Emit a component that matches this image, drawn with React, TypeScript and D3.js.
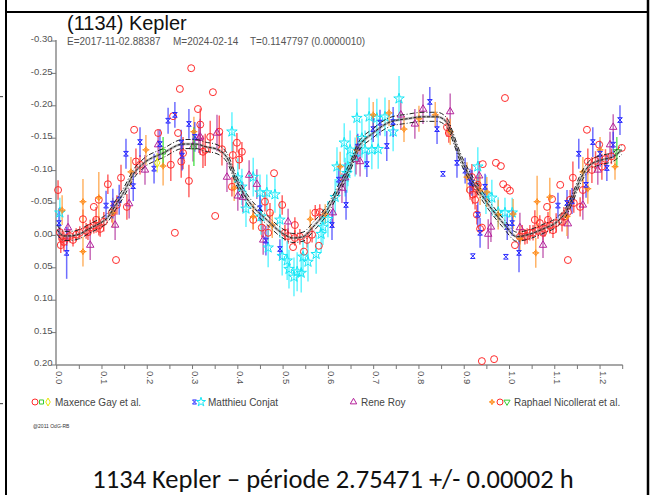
import React from "react";
import * as d3 from "d3";

// [phase, reduced magnitude, error]
type Obs = [number, number, number];

// Fourier fit of the composite lightcurve
const fitPhase = [0.001,0.016,0.029,0.051,0.071,0.096,0.109,0.133,0.146,0.171,0.193,0.235,0.279,0.308,0.328,0.354,0.376,0.398,0.427,0.464,0.497,0.522,0.544,0.566,0.597,0.626,0.648,0.663,0.699,0.736,0.774,0.809,0.840,0.862,0.875,0.891,0.913,0.935,0.957,0.986,1.016,1.045,1.074,1.105,1.127,1.140,1.156,1.178,1.206,1.228,1.248];
const fitMag = [-0.0085,0.0008,0.0008,-0.0023,-0.010,-0.019,-0.025,-0.050,-0.064,-0.096,-0.112,-0.127,-0.141,-0.141,-0.137,-0.133,-0.120,-0.083,-0.050,-0.024,-0.004,0.004,0.002,-0.013,-0.039,-0.076,-0.106,-0.132,-0.158,-0.175,-0.180,-0.183,-0.183,-0.174,-0.152,-0.121,-0.090,-0.066,-0.044,-0.019,0.002,-0.002,-0.010,-0.021,-0.039,-0.059,-0.086,-0.109,-0.117,-0.121,-0.132];
const fitBand = 0.007;

// Maxence Gay et al.
const gayRed: Obs[] = [
  [0.003,-0.070,0.015],[0.009,0.015,0.012],[0.016,0.010,0.015],[0.036,0.007,0.010],[0.058,-0.025,0.015],
  [0.069,-0.005,0.012],[0.082,-0.044,0],[0.087,-0.024,0.020],[0.093,-0.015,0.015],[0.093,-0.055,0],
  [0.096,-0.010,0.012],[0.113,-0.079,0.015],[0.131,0.038,0],[0.142,-0.089,0.020],[0.155,-0.044,0.020],
  [0.171,-0.163,0],[0.175,-0.114,0.020],[0.184,-0.109,0.015],[0.224,-0.158,0],[0.252,-0.109,0.025],
  [0.257,-0.184,0],[0.261,-0.004,0],[0.275,-0.114,0.025],[0.279,-0.127,0.025],[0.292,-0.084,0.025],
  [0.312,-0.195,0],[0.317,-0.171,0.025],[0.323,-0.129,0.025],[0.268,-0.158,0],[0.297,-0.258,0],
  [0.272,-0.226,0],[0.345,-0.221,0],[0.359,-0.160,0.025],[0.339,-0.152,0.025],[0.398,-0.143,0.015],
  [0.409,-0.129,0.015],[0.403,-0.117,0.015],[0.389,-0.124,0.020],[0.350,-0.030,0],[0.387,-0.075,0.015],
  [0.480,-0.096,0],[0.498,-0.047,0.015],[0.460,-0.052,0.015],[0.453,-0.012,0.015],[0.471,-0.035,0.015],
  [0.434,-0.024,0.015],[0.467,-0.004,0.012],[0.522,0.018,0],[0.546,0.025,0],[0.537,0.002,0.012],
  [0.526,-0.016,0.012],[0.504,-0.004,0.012],[0.581,-0.036,0.012],[0.579,0.016,0],[0.571,-0.035,0.012],
  [0.328,-0.132,0.025],[0.365,-0.133,0.025],[0.862,-0.167,0.015],[0.866,-0.158,0.015],[0.917,-0.090,0.020],
  [0.941,-0.110,0],[0.930,-0.078,0.015],[0.919,-0.063,0.015],[0.928,-0.032,0.015],[0.935,-0.010,0],
  [0.990,-0.212,0],[0.970,-0.112,0],[0.981,-0.107,0],[0.928,-0.075,0.015],[0.986,-0.079,0],
  [0.995,-0.073,0],[1.001,-0.069,0],[0.939,-0.012,0],[0.939,0.194,0],[0.966,0.191,0],
  [0.022,0.004,0.012],[0.029,0.001,0.010],[0.043,-0.001,0.010],[0.051,-0.004,0.010],[0.065,-0.007,0.012],
  [0.074,-0.012,0.012],[0.082,-0.015,0.012],[0.104,-0.021,0.015],[0.122,-0.035,0.015],[0.133,-0.047,0.015],
  [0.007,-0.005,0.012],[0.012,0.005,0.012],[0.526,0.004,0.012],[0.553,0.007,0.012],[0.564,-0.001,0.012],
  [0.511,0.001,0.012],[0.913,-0.070,0.015],[0.924,-0.055,0.015],
];
const gayGreen: Obs[] = [[0.235,-0.129,0.023],[0.303,-0.137,0.030]];
const gayYellow: Obs[] = [[0.222,-0.112,0.015]];

// Matthieu Conjat
const conjatBlue: Obs[] = [
  [0.005,-0.019,0.023],[0.022,0.027,0.040],[0.109,-0.046,0.023],[0.124,-0.049,0.023],[0.138,-0.055,0.023],
  [0.153,-0.126,0.023],[0.169,-0.076,0.023],[0.184,-0.144,0.023],[0.215,-0.103,0.023],[0.228,-0.141,0.023],
  [0.246,-0.177,0.020],[0.261,-0.186,0.020],[0.277,-0.123,0.023],[0.292,-0.172,0.023],[0.305,-0.152,0.023],
  [0.275,-0.143,0.020],[0.449,-0.042,0.020],[0.462,0.008,0.023],[0.493,0.021,0.015],[0.608,-0.016,0.023],
  [0.639,-0.047,0.023],[0.623,-0.086,0.023],[0.665,-0.137,0.020],[0.685,-0.110,0.020],[0.699,-0.164,0.020],
  [0.714,-0.174,0.020],[0.729,-0.138,0.023],[0.743,-0.175,0.023],[0.824,-0.206,0.023],[0.840,-0.164,0.023],
  [0.853,-0.095,0],[0.884,-0.112,0.023],[0.902,-0.100,0.020],[0.917,-0.081,0.020],[0.935,-0.004,0.023],
  [0.919,0.032,0],[0.946,-0.075,0.020],[0.913,-0.083,0.020],[0.930,-0.032,0.020],[0.992,0.033,0],
  [0.995,-0.013,0.020],[1.006,-0.019,0.020],[1.021,0.027,0.030],[1.107,-0.046,0.020],[1.127,-0.050,0.020],
  [1.138,-0.053,0.020],[1.153,-0.126,0.023],[1.169,-0.078,0.020],[1.184,-0.144,0.023],[1.200,-0.126,0.020],
  [1.215,-0.104,0.020],[1.229,-0.140,0.020],[1.244,-0.178,0.023],
];
const conjatCyan: Obs[] = [
  [0.007,-0.035,0.023],[0.387,-0.160,0.030],[0.400,-0.089,0.030],[0.434,-0.090,0.030],[0.449,-0.066,0.028],
  [0.464,-0.066,0.028],[0.482,-0.063,0.028],[0.418,-0.041,0.028],[0.451,-0.029,0.028],[0.493,-0.024,0.028],
  [0.467,0.019,0.030],[0.498,0.032,0.030],[0.509,0.039,0.030],[0.513,0.052,0.030],[0.524,0.064,0.030],
  [0.531,0.056,0.030],[0.540,0.058,0.030],[0.544,0.033,0.030],[0.555,0.041,0.030],[0.573,0.029,0.030],
  [0.584,-0.002,0.028],[0.588,-0.013,0.028],[0.599,-0.025,0.028],[0.615,-0.059,0.028],[0.619,-0.106,0.030],
  [0.635,-0.143,0.030],[0.641,-0.096,0.030],[0.409,-0.075,0.028],[0.648,-0.132,0.030],[0.663,-0.181,0.030],
  [0.674,-0.150,0.030],[0.681,-0.132,0.030],[0.690,-0.183,0.030],[0.696,-0.132,0.030],[0.707,-0.181,0.030],
  [0.710,-0.133,0.030],[0.725,-0.183,0.030],[0.743,-0.160,0.030],[0.756,-0.211,0.035],[0.659,-0.121,0.030],
  [0.643,-0.106,0.030],[0.637,-0.090,0.030],[0.930,-0.106,0.030],[0.948,-0.063,0.030],[0.961,-0.058,0.028],
  [0.975,-0.036,0.023],[0.990,-0.035,0.023],[1.006,-0.035,0.023],
];

// Rene Roy
const royPurple: Obs[] = [
  [0.025,-0.012,0.020],[0.074,0.015,0.023],[0.129,-0.016,0.023],[0.160,-0.049,0.023],[0.195,-0.101,0.023],
  [0.224,-0.140,0.023],[0.314,-0.150,0.023],[0.301,-0.137,0.023],[0.317,-0.152,0.028],[0.354,-0.158,0.028],
  [0.376,-0.090,0.023],[0.400,-0.061,0.023],[0.411,-0.059,0.023],[0.425,-0.093,0.023],[0.442,-0.079,0.023],
  [0.456,0.007,0.023],[0.511,-0.021,0.020],[0.610,-0.035,0.023],[0.637,-0.089,0.023],[0.661,-0.117,0.023],
  [0.670,-0.114,0.023],[0.760,-0.186,0.023],[0.791,-0.172,0.023],[0.809,-0.195,0.023],[0.869,-0.191,0.028],
  [0.933,-0.092,0.023],[0.630,-0.073,0.023],[0.953,-0.002,0.023],[0.959,-0.013,0.023],[1.023,-0.012,0.023],
  [1.074,0.015,0.020],[1.129,-0.018,0.023],[1.162,-0.047,0.023],[1.195,-0.101,0.023],[1.222,-0.140,0.020],
  [1.229,-0.167,0.020],
];

// Raphael Nicollerat et al.
const nicolleratOrange: Obs[] = [
  [0.012,-0.039,0.023],[0.058,-0.052,0.035],[0.058,0.025,0.023],[0.093,-0.058,0.040],[0.124,-0.035,0.023],
  [0.164,-0.098,0.023],[0.197,-0.132,0.023],[0.235,-0.107,0.030],[0.303,-0.160,0.023],[0.392,-0.073,0.020],
  [0.434,-0.029,0.020],[0.476,-0.016,0.020],[0.560,-0.025,0.015],[0.593,-0.033,0.015],[0.626,-0.106,0.023],
  [0.663,-0.132,0.023],[0.699,-0.186,0.020],[0.734,-0.189,0.020],[0.767,-0.164,0.020],[0.800,-0.180,0.020],
  [0.836,-0.186,0.020],[0.869,-0.160,0.020],[0.906,-0.090,0.023],[0.950,-0.067,0.023],[0.935,-0.070,0.023],
  [0.975,-0.032,0.023],[1.008,-0.033,0.023],[1.023,0.005,0.020],[1.061,-0.052,0.040],[1.058,0.027,0.023],
  [1.089,-0.059,0.030],[1.127,-0.029,0.030],[1.162,-0.098,0.023],[1.173,-0.072,0.023],[1.200,-0.132,0.020],
  [1.233,-0.106,0.020],
];
const nicolleratRed: Obs[] = [
  [1.012,0.015,0],[1.034,0.002,0.012],[1.056,-0.024,0.015],[1.083,-0.044,0],[1.094,-0.056,0],
  [1.112,-0.078,0],[1.085,-0.024,0.012],[1.074,-0.004,0.012],[1.096,-0.008,0.012],[1.129,0.038,0],
  [1.140,-0.089,0.025],[1.156,-0.044,0.015],[1.171,-0.163,0],[1.173,-0.114,0.020],[1.182,-0.101,0.020],
  [1.198,-0.140,0],[1.204,-0.106,0.020],[1.248,-0.135,0],[1.134,-0.055,0.015],[1.116,-0.021,0.015],
  [1.067,-0.019,0.012],[1.045,-0.004,0.012],[1.023,0.002,0.012],[1.028,-0.004,0.012],[1.039,0.001,0.012],
  [1.052,-0.004,0.012],[1.063,-0.007,0.012],[1.078,-0.010,0.012],[1.089,-0.015,0.012],[1.103,-0.019,0.015],
  [1.120,-0.029,0.015],[1.129,-0.036,0.015],[1.142,-0.050,0.015],[1.162,-0.070,0.015],[1.190,-0.115,0.015],
  [1.212,-0.118,0.015],[1.225,-0.122,0.012],
];
const nicolleratGreen: Obs[] = [[1.237,-0.129,0.023]];

const yTickValues = [-0.30,-0.25,-0.20,-0.15,-0.10,-0.05,0.00,0.05,0.10,0.15,0.20];
const yTickLabels = ["-0.30","-0.25","-0.20","-0.15","-0.10","-0.05","0.00","0.05","0.10","0.15","0.20"];
const xTickValues = [0,0.05,0.1,0.15,0.2,0.25,0.3,0.35,0.4,0.45,0.5,0.55,0.6,0.65,0.7,0.75,0.8,0.85,0.9,0.95,1.0,1.05,1.1,1.15,1.2,1.25];
const xLabelValues = [0,0.1,0.2,0.3,0.4,0.5,0.6,0.7,0.8,0.9,1.0,1.1,1.2];
const xTickLabels = ["0.0","0.1","0.2","0.3","0.4","0.5","0.6","0.7","0.8","0.9","1.0","1.1","1.2"];

const legendNames = ["Maxence Gay et al.", "Matthieu Conjat", "Rene Roy", "Raphael Nicollerat et al."];

const W = 651;
const H = 495;
const FONT = "'Liberation Sans', Arial, sans-serif";

const x = d3.scaleLinear().domain([0, 1.25]).range([56.7, 622.7]);
const y = d3.scaleLinear().domain([-0.3, 0.2]).range([41, 365]);

// custom marker shapes
const symbolHourglass = {
  draw(ctx: any, size: number) {
    const s = Math.sqrt(size) / 2;
    ctx.moveTo(-s, -s); ctx.lineTo(s, -s); ctx.lineTo(-s, s); ctx.lineTo(s, s); ctx.closePath();
  },
};
const symbolDiamondPlus = {
  draw(ctx: any, size: number) {
    const s = Math.sqrt(size) / 2;
    ctx.moveTo(0, -s); ctx.lineTo(s, 0); ctx.lineTo(0, s); ctx.lineTo(-s, 0); ctx.closePath();
    ctx.moveTo(0, -s * 1.35); ctx.lineTo(0, s * 1.35);
    ctx.moveTo(-s * 1.35, 0); ctx.lineTo(s * 1.35, 0);
  },
};
const symbolTriangleDown = {
  draw(ctx: any, size: number) {
    const h = Math.sqrt(size / Math.sqrt(3));
    ctx.moveTo(-h, -h * 0.6); ctx.lineTo(h, -h * 0.6); ctx.lineTo(0, h * 1.1); ctx.closePath();
  },
};

type Style = { type: any; size: number; color: string; bar: string; barOpacity: number };
const sCircle: Style = { type: d3.symbolCircle, size: 38, color: "#ff2b2b", bar: "#ff2020", barOpacity: 0.7 };
const sGreenSq: Style = { type: d3.symbolSquare, size: 22, color: "#33cc33", bar: "#33dd33", barOpacity: 0.8 };
const sYellow: Style = { type: d3.symbolDiamond, size: 24, color: "#e6e600", bar: "#f0f040", barOpacity: 0.8 };
const sBlue: Style = { type: symbolHourglass, size: 22, color: "#2a2aff", bar: "#3030ff", barOpacity: 0.7 };
const sCyan: Style = { type: d3.symbolStar, size: 34, color: "#14e6f5", bar: "#30f0ff", barOpacity: 0.75 };
const sPurple: Style = { type: d3.symbolTriangle, size: 24, color: "#b4209a", bar: "#b43aa0", barOpacity: 0.75 };
const sOrange: Style = { type: symbolDiamondPlus, size: 26, color: "#ff8c1a", bar: "#ffa040", barOpacity: 0.8 };
const sGreenTri: Style = { type: symbolTriangleDown, size: 22, color: "#33cc33", bar: "#44dd44", barOpacity: 0.8 };

const layers: { data: Obs[]; style: Style }[] = [
  { data: gayRed, style: sCircle },
  { data: nicolleratRed, style: sCircle },
  { data: conjatCyan, style: sCyan },
  { data: royPurple, style: sPurple },
  { data: nicolleratOrange, style: sOrange },
  { data: conjatBlue, style: sBlue },
  { data: gayGreen, style: sGreenSq },
  { data: gayYellow, style: sYellow },
  { data: nicolleratGreen, style: sGreenTri },
];

const symPath = (st: Style, scale = 1) => d3.symbol().type(st.type).size(st.size * scale)() as string;

export default function App() {
  const fitPts = fitPhase.map((p, i) => [p, fitMag[i]] as [number, number]);
  const line = d3.line<[number, number]>().x((d) => x(d[0])).y((d) => y(d[1])).curve(d3.curveMonotoneX);
  const upper = line(fitPts.map(([p, m]) => [p, m - fitBand])) as string;
  const lower = line(fitPts.map(([p, m]) => [p, m + fitBand])) as string;
  const centre = line(fitPts) as string;

  const legendItems = [
    { name: legendNames[0], tx: 55, syms: [[35, sCircle], [41.5, sGreenSq], [48, sYellow]] },
    { name: legendNames[1], tx: 208, syms: [[194.5, sBlue], [201, sCyan]] },
    { name: legendNames[2], tx: 361, syms: [[353.5, sPurple]] },
    { name: legendNames[3], tx: 514, syms: [[492, sOrange], [500, sCircle], [507, sGreenTri]] },
  ] as { name: string; tx: number; syms: [number, Style][] }[];

  return (
    <svg width={W} height={H} style={{ position: "absolute", left: 0, top: 0, background: "#fff" }} fontFamily={FONT}>
      <rect width={W} height={H} fill="#fff" />
      {/* frame */}
      <line x1={6} y1={0} x2={6} y2={H} stroke="#000" strokeWidth={2} />
      <line x1={648} y1={0} x2={648} y2={H} stroke="#000" strokeWidth={2.5} />
      <line x1={6} y1={12} x2={648} y2={12} stroke="#000" strokeWidth={2} />
      <rect x={0} y={96} width={3} height={1.2} fill="#555" />
      <rect x={0} y={403} width={3} height={1.2} fill="#555" />

      {/* title */}
      <text x={67} y={30} fontSize={20} fill="#111">(1134) Kepler</text>
      <text x={67} y={45} fontSize={10} fill="#555">E=2017-11-02.88387</text>
      <text x={173} y={45} fontSize={10} fill="#555">M=2024-02-14</text>
      <text x={250} y={45} fontSize={10} fill="#555">T=0.1147797 (0.0000010)</text>

      {/* axes */}
      <line x1={56} y1={y(-0.3) - 1} x2={56} y2={y(0.2)} stroke="#a8a8a8" strokeWidth={2} />
      <line x1={56} y1={y(0.2)} x2={x(1.25)} y2={y(0.2)} stroke="#8a8a8a" strokeWidth={1.5} />
      {yTickValues.map((v, i) => (
        <g key={"yt" + i}>
          <line x1={51} x2={56} y1={y(v)} y2={y(v)} stroke="#777" strokeWidth={1} />
          <text x={52.5} y={y(v) + 1.2} fontSize={9.5} fill="#555" textAnchor="end">{yTickLabels[i]}</text>
        </g>
      ))}
      {xTickValues.map((v, i) => (
        <line key={"xt" + i} x1={x(v)} x2={x(v)} y1={y(0.2)} y2={y(0.2) + 4} stroke="#777" strokeWidth={1} />
      ))}
      {xLabelValues.map((v, i) => (
        <text key={"xl" + i} transform={`translate(${x(v) - 0.5},${y(0.2) + 6}) rotate(90)`} fontSize={9.5} fill="#555">
          {xTickLabels[i]}
        </text>
      ))}

      {/* error bars */}
      {layers.map((L, li) => (
        <g key={"b" + li} stroke={L.style.bar} strokeOpacity={L.style.barOpacity} strokeWidth={1.5}>
          {L.data.filter((d) => d[2] > 0).map((d, i) => (
            <line key={i} x1={x(d[0])} x2={x(d[0])} y1={y(d[1] - d[2])} y2={y(d[1] + d[2])} />
          ))}
        </g>
      ))}

      {/* observations */}
      {layers.map((L, li) => (
        <g key={"p" + li} fill="none" stroke={L.style.color} strokeWidth={1}>
          {L.data.map((d, i) => (
            <path key={i} d={symPath(L.style)} transform={`translate(${x(d[0])},${y(d[1])})`} />
          ))}
        </g>
      ))}

      {/* fit */}
      <path d={centre} fill="none" stroke="#777" strokeWidth={2.5} strokeOpacity={0.55} />
      <path d={centre} fill="none" stroke="#222" strokeWidth={1} strokeDasharray="3,1.5" />
      <path d={upper} fill="none" stroke="#222" strokeWidth={1} strokeDasharray="5,2,1,2" />
      <path d={lower} fill="none" stroke="#222" strokeWidth={1} strokeDasharray="5,2,1,2" />

      {/* legend */}
      {legendItems.map((it, i) => (
        <g key={"lg" + i}>
          {it.syms.map(([sx, st], j) => (
            <path key={j} d={symPath(st, 0.75)} transform={`translate(${sx},402)`} fill="none" stroke={st.color} strokeWidth={1} />
          ))}
          <text x={it.tx} y={405.5} fontSize={10} fill="#444">{it.name}</text>
        </g>
      ))}
      <text x={33} y={427.5} fontSize={5} fill="#333">@2011 OdG-RB</text>

      {/* caption */}
      <text x={333} y={488} fontSize={26.5} fill="#111" textAnchor="middle"
        fontFamily="Carlito, Calibri, Lato, 'Open Sans', sans-serif">
        1134 Kepler – période 2.75471 +/- 0.00002 h
      </text>
    </svg>
  );
}
